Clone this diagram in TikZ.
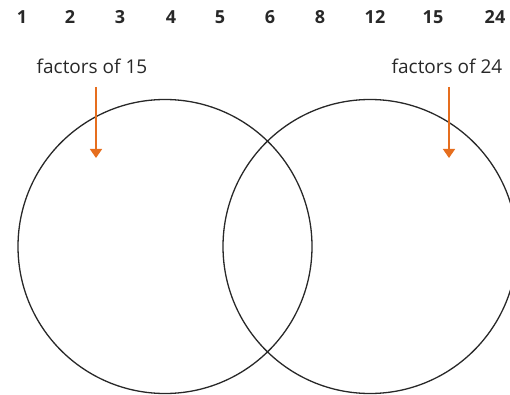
\documentclass[tikz,border=0pt]{standalone}
\usepackage{fontspec}
\setmainfont{Open Sans}
\usetikzlibrary{arrows.meta}
\definecolor{arroworange}{RGB}{230,110,30}
\definecolor{ink}{RGB}{40,40,40}
\begin{document}
\begin{tikzpicture}[x=1pt,y=-1pt,
  num/.style={font=\fontsize{18}{20}\selectfont\bfseries, text=ink, inner sep=0pt},
  lbl/.style={font=\fontsize{19}{21}\selectfont, text=ink, inner sep=0pt},
  ring/.style={draw=ink, line width=1.3pt},
  pointer/.style={draw=arroworange, line width=1.5pt, -{Triangle[width=12pt,length=9pt]}}]
\path[use as bounding box] (0,0) rectangle (510,395);
\begin{scope}
\clip (0,0) rectangle (510,395);
\draw[ring] (165,246.5) circle (147);
\draw[ring] (370,246.5) circle (147);
\end{scope}
\foreach \t/\x [count=\i] in {1/22,2/70,3/120,4/171,5/220,6/270,8/320,12/375,15/433,24/495}
  \node[num] (n\i) at (\x,17) {\t};
\node[lbl] (l15) at (92,66) {factors of 15};
\node[lbl] (l24) at (447,66) {factors of 24};
\coordinate (a15s) at (96,87);
\coordinate (a15e) at (96,158);
\coordinate (a24s) at (449,87);
\coordinate (a24e) at (449,158);
\draw[pointer] (a15s) -- (a15e);
\draw[pointer] (a24s) -- (a24e);
\end{tikzpicture}
\end{document}
